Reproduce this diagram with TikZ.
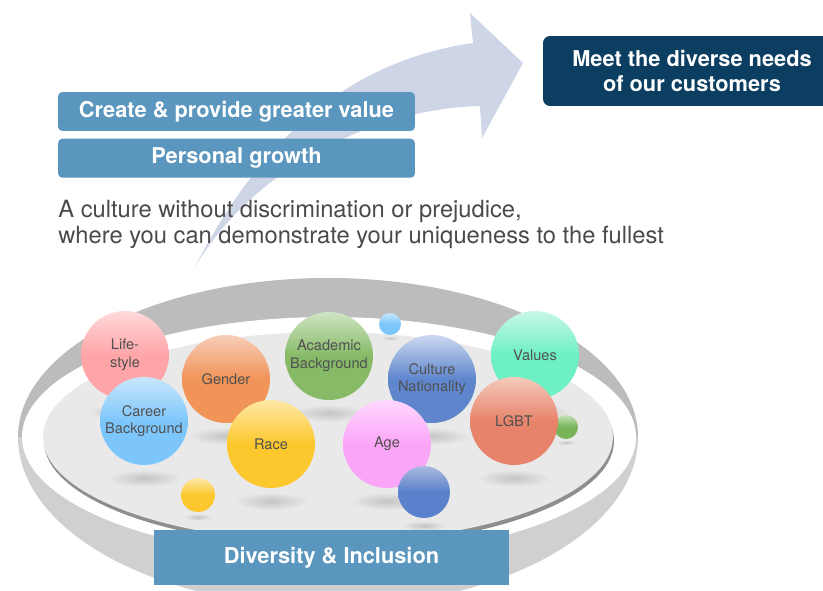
\documentclass[tikz,border=0pt]{standalone}
\usepackage{fontspec}
\setmainfont{TeX Gyre Heros}
\usepackage{tikz}
\usetikzlibrary{positioning}
\definecolor{boxblue}{HTML}{5A96BD}
\definecolor{navy}{HTML}{0C3E61}
\definecolor{arrowgray}{HTML}{CDD5E6}
\definecolor{textgray}{HTML}{4A4A4A}
\definecolor{bubbletext}{HTML}{505050}
\definecolor{ringtop}{HTML}{BCBCBC}
\definecolor{ringlow}{HTML}{D0D0D0}
\definecolor{dish}{HTML}{E9E9E9}
\definecolor{dishrim}{HTML}{8E8E8E}
\definecolor{shadowgray}{HTML}{C4C4C4}
\definecolor{lifetop}{HTML}{FFD9DA}\definecolor{lifebot}{HTML}{FFA5A8}
\definecolor{gendtop}{HTML}{F7CDB7}\definecolor{gendbot}{HTML}{F09458}
\definecolor{acadtop}{HTML}{CFE4C3}\definecolor{acadbot}{HTML}{86BA67}
\definecolor{cultop}{HTML}{CCD8F0}\definecolor{culbot}{HTML}{5F86CD}
\definecolor{valtop}{HTML}{C8F7E6}\definecolor{valbot}{HTML}{6DF0C4}
\definecolor{cartop}{HTML}{C8E7FC}\definecolor{carbot}{HTML}{7DC6FB}
\definecolor{racetop}{HTML}{FDE8A6}\definecolor{racebot}{HTML}{FDC82D}
\definecolor{agetop}{HTML}{FFD8FF}\definecolor{agebot}{HTML}{FBA5F8}
\definecolor{lgbttop}{HTML}{F5CABC}\definecolor{lgbtbot}{HTML}{E7836A}
\definecolor{greentop}{HTML}{C5E0B5}\definecolor{greenbot}{HTML}{77B358}
\definecolor{dbtop}{HTML}{A9BADF}\definecolor{dbbot}{HTML}{5B80CC}

\begin{document}
\begin{tikzpicture}[x=0.02cm, y=-0.02cm,
  bluebox/.style={fill=boxblue, rounded corners=2.5pt, text=white, font=\bfseries\fontsize{12.4}{14.2}\selectfont, minimum width=7.14cm, minimum height=0.78cm, inner sep=0pt},
  bubble/.style={circle, minimum size=1.76cm, inner sep=0pt, align=center, text=bubbletext, font=\fontsize{8.3}{10}\selectfont},
  tint/.style 2 args={top color=#1, bottom color=#2, middle color=#2}]
\clip (0,0) rectangle (823,591);
% curved arrow
\fill[arrowgray] (195,267) .. controls (255,150) and (340,62) .. (473,43) -- (470,13) -- (523,63) -- (482,138) -- (480,106) .. controls (380,108) and (255,165) .. (195,267);
% boxes and text
\node[bluebox] (value) at (236.5,111.5) {Create \& provide greater value};
\node[bluebox, below=0.14cm of value] (growth) {Personal growth};
\node[fill=navy, rounded corners=4pt, text=white, align=center, font=\bfseries\fontsize{12.4}{14.2}\selectfont, minimum width=5.96cm, minimum height=1.40cm, inner sep=0pt] (needs) at (692,71) {Meet the diverse needs\\of our customers};
\node[anchor=base west, align=left, inner sep=0pt, text=textgray, font=\fontsize{13.5}{14.8}\selectfont] (culture) at (58,244) {A culture without discrimination or prejudice,\\where you can demonstrate your uniqueness to the fullest};
% ring and dish
\begin{scope}
\clip (0,437) rectangle (823,620);
\fill[ringlow] (328,437) ellipse [x radius=310, y radius=170];
\end{scope}
\begin{scope}
\clip (0,0) rectangle (823,437);
\fill[ringtop] (328,437) ellipse [x radius=310, y radius=159];
\end{scope}
\fill[white] (329,437) ellipse [x radius=307, y radius=120];
\fill[dishrim] (329,441) ellipse [x radius=285, y radius=105];
\fill[dish] (328,437) ellipse [x radius=285, y radius=105];
% shadows
\foreach \x/\y/\r in {125/355/44, 226/379/44, 329/356/44, 390/324/11, 432/379/44, 535/355/44, 144/421/44, 271/444/44, 387/444/44, 514/421/44, 566/427/12, 198/495/17, 424/492/26}
  \shade[inner color=shadowgray, outer color=dish] (\x,{\y+1.3*\r}) ellipse [x radius={0.85*\r}, y radius={0.2*\r}];
% bubbles
\node[bubble, tint={lifetop}{lifebot}] (life) at (125,355) {Life-\\style};
\node[bubble, tint={gendtop}{gendbot}] (gender) at (226,379) {Gender};
\node[bubble, tint={acadtop}{acadbot}] (academic) at (329,356) {Academic\\Background};
\node[circle, minimum size=0.44cm, inner sep=0pt, tint={cartop}{carbot}] (dot1) at (390,324) {};
\node[bubble, tint={cultop}{culbot}] (nation) at (432,379) {Culture\\Nationality};
\node[bubble, tint={valtop}{valbot}] (values) at (535,355) {Values};
\node[bubble, tint={cartop}{carbot}] (career) at (144,421) {Career\\Background};
\node[bubble, tint={racetop}{racebot}] (race) at (271,444) {Race};
\node[bubble, tint={agetop}{agebot}] (age) at (387,444) {Age};
\node[circle, minimum size=0.48cm, inner sep=0pt, tint={greentop}{greenbot}] (dot2) at (566,427) {};
\node[bubble, tint={lgbttop}{lgbtbot}] (lgbt) at (514,421) {LGBT};
\node[circle, minimum size=0.68cm, inner sep=0pt, tint={racetop}{racebot}] (dot3) at (198,495) {};
\node[circle, minimum size=1.04cm, inner sep=0pt, tint={dbtop}{dbbot}] (dot4) at (424,492) {};
% label
\node[fill=boxblue, text=white, font=\bfseries\fontsize{12.4}{14.2}\selectfont, minimum width=7.10cm, minimum height=1.10cm, inner sep=0pt] (di) at (331.5,557.5) {Diversity \& Inclusion};
\end{tikzpicture}
\end{document}
